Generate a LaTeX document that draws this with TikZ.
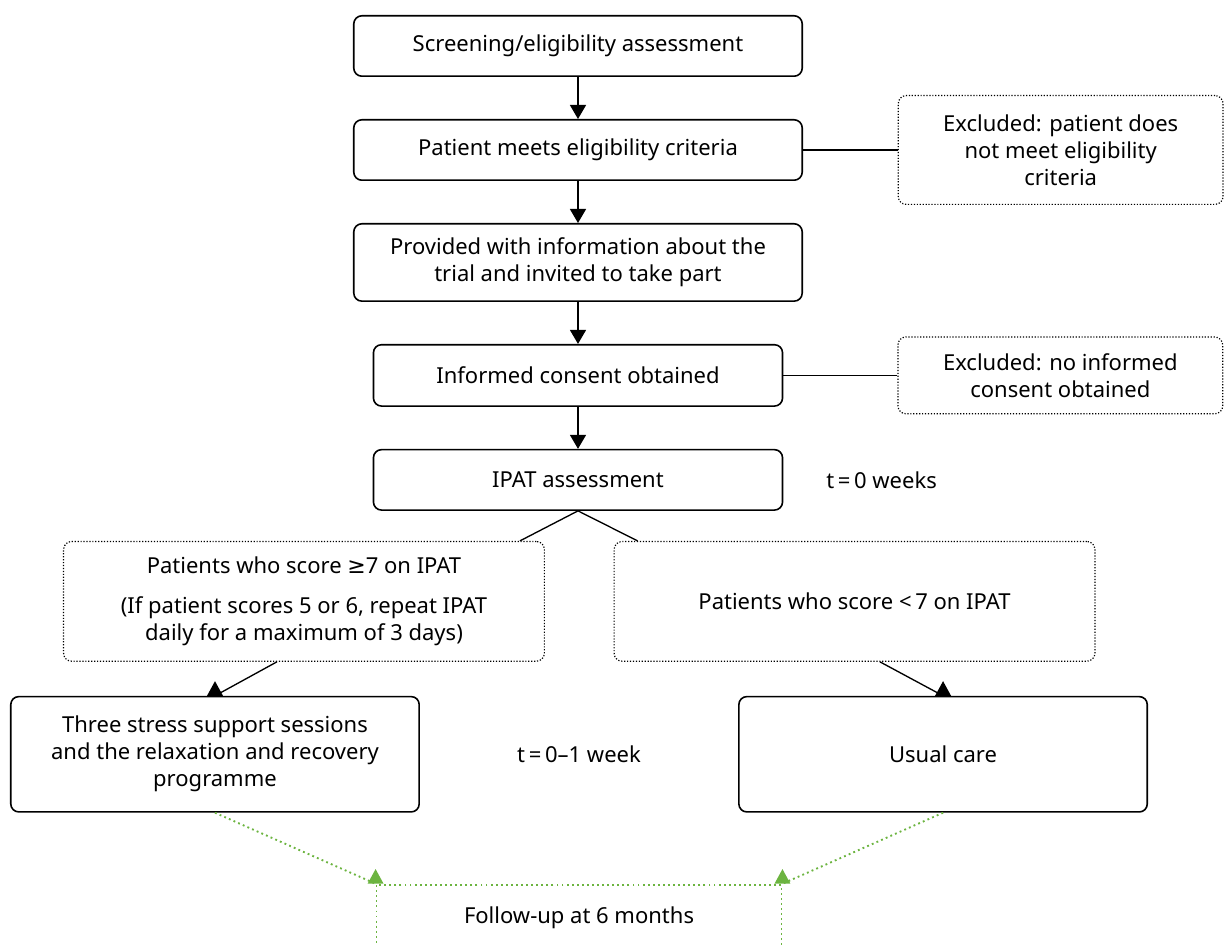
\documentclass[tikz,border=0pt]{standalone}
\usepackage{fontspec}
\setmainfont{Noto Sans}
\newfontfamily\symfont{DejaVu Sans}
\usetikzlibrary{arrows.meta,positioning,calc}
\definecolor{fupgreen}{RGB}{108,180,64}
\tikzset{
    stage/.style={draw, rounded corners=6pt, line width=1.2pt, align=center, minimum height=45.3pt, inner sep=2pt},
    widebox/.style={stage, minimum width=336.3pt},
    narrowbox/.style={stage, minimum width=306.8pt},
    armbox/.style={stage, minimum width=306.3pt, minimum height=86.5pt},
    outbox/.style={draw, dash pattern=on 0.9pt off 1.3pt, line width=0.9pt, rounded corners=6pt, align=center, minimum width=243.6pt},
    scorebox/.style={outbox, minimum width=360.6pt, minimum height=89.8pt},
    flow/.style={-{Triangle[length=10.5pt, width=12pt]}, line width=1pt},
    split/.style={line width=1pt},
    followup/.style={draw=fupgreen, dash pattern=on 1.4pt off 2.4pt, line width=1.4pt},
    tipup/.pic={\fill (-6pt,0pt) -- (6pt,0pt) -- (0pt,11pt) -- cycle;}
}

\begin{document}
\begin{tikzpicture}[node distance=31.5pt, font=\fontsize{16.5}{20.25}\selectfont]
    \useasboundingbox (-433.5pt,34.5pt) rectangle (485.25pt,-674.25pt);
    \clip (-433.5pt,34.5pt) rectangle (485.25pt,-674.25pt);

    % Main recruitment chain
    \node[widebox] (screen) {Screening/eligibility assessment};
    \node[widebox, below=of screen] (meets) {Patient meets eligibility criteria};
    \node[widebox, below=of meets, minimum height=58pt] (info) {Provided with information about the\\trial and invited to take part};
    \node[narrowbox, below=of info, minimum height=46pt] (consent) {Informed consent obtained};
    \node[narrowbox, below=of consent] (ipat) {IPAT assessment};
    \draw[flow] (screen) -- (meets);
    \draw[flow] (meets) -- (info);
    \draw[flow] (info) -- (consent);
    \draw[flow] (consent) -- (ipat);

    % Exclusions
    \node[outbox, right=71pt of meets, minimum height=81.6pt] (exclelig) {Excluded: patient does\\not meet eligibility\\criteria};
    \node[outbox, right=85.5pt of consent, minimum height=57.6pt] (exclcons) {Excluded: no informed\\consent obtained};
    \draw[split] (meets) -- (exclelig);
    \draw[split] (consent) -- (exclcons);

    \node[right=32pt of ipat, inner sep=0pt] (tzero) {t\,=\,0 weeks};

    % IPAT score split
    \node[scorebox, below=22.5pt of ipat, xshift=-205.5pt] (high) {Patients who score {\symfont ≥}7 on IPAT\\[10pt](If patient scores 5 or 6, repeat IPAT\\daily for a maximum of 3 days)};
    \node[scorebox, below=22.5pt of ipat, xshift=207.4pt] (low) {Patients who score <\,7 on IPAT};
    \draw[split] (ipat.south) -- ($(high.north east)+(-18.75pt,0)$);
    \draw[split] (ipat.south) -- ($(low.north west)+(18pt,0)$);

    % Arms
    \node[armbox, below=25.5pt of high, xshift=-66.75pt] (stress) {Three stress support sessions\\and the relaxation and recovery\\programme};
    \node[armbox, below=25.5pt of low, xshift=66.4pt] (usual) {Usual care};
    \draw[split] ($(high.south)+(-20.25pt,0)$) -- (stress.north);
    \draw[split] ($(low.south)+(19pt,0)$) -- (usual.north);
    \pic at (stress.north) {tipup};
    \pic at (usual.north) {tipup};

    \node (tweek) at ($(stress)!0.5!(usual)$) {t\,=\,0--1 week};

    % Follow-up
    \coordinate (armbase) at ($(stress.south)!0.5!(usual.south)$);
    \node[followup, below=53.25pt of armbase, minimum width=303.75pt, minimum height=49.5pt] (follow) {Follow-up at 6 months};
    \draw[followup] (stress.south) -- (follow.north west);
    \draw[followup] (usual.south) -- (follow.north east);
    \pic[fupgreen] at (follow.north west) {tipup};
    \pic[fupgreen] at (follow.north east) {tipup};
\end{tikzpicture}
\end{document}
